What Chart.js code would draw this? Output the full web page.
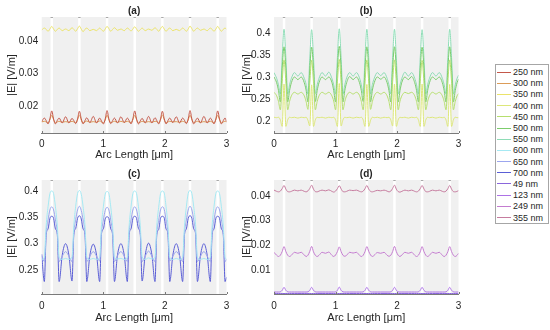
<!DOCTYPE html>
<html lang="en">
<head>
<meta charset="UTF-8">
<title>|E| along arc length</title>
<style>
    body { margin: 0; background: #fff; }
    .wrap { position: relative; width: 550px; height: 330px; overflow: hidden; font-family: "Liberation Sans", Arial, sans-serif; }
    canvas { position: absolute; }
    #legend { position: absolute; left: 495px; top: 64px; width: 54px; height: 160px; border: 1px solid #a6a6a6; box-sizing: border-box; background: #fff; padding-top: 1.5px; }
    .row { height: 11.2px; display: flex; align-items: center; font-size: 9px; color: #262626; white-space: nowrap; }
    .row .ln { display: inline-block; width: 14px; height: 1px; margin-left: 1px; margin-right: 2px; }
</style>
</head>
<body>
<div class="wrap">
    <canvas id="pa" width="275" height="165" style="left:0;top:0"></canvas>
    <canvas id="pb" width="275" height="165" style="left:235px;top:0"></canvas>
    <canvas id="pc" width="275" height="165" style="left:0;top:165px"></canvas>
    <canvas id="pd" width="275" height="165" style="left:235px;top:165px"></canvas>
    <div id="legend"></div>
</div>

<script src="https://cdn.jsdelivr.net/npm/chart.js"></script>
<script>
// arc length samples [um], shared by every curve
const xs = [0, 0.043, 0.073, 0.103, 0.133, 0.163, 0.193, 0.223, 0.253, 0.283, 0.333, 0.388,
    0.442, 0.492, 0.522, 0.552, 0.582, 0.612, 0.642, 0.672, 0.702, 0.732, 0.782, 0.837,
    0.891, 0.941, 0.971, 1.001, 1.031, 1.061, 1.091, 1.121, 1.151, 1.181, 1.231, 1.286,
    1.340, 1.390, 1.420, 1.450, 1.480, 1.510, 1.540, 1.570, 1.600, 1.630, 1.680, 1.735,
    1.789, 1.839, 1.869, 1.899, 1.929, 1.959, 1.989, 2.019, 2.049, 2.079, 2.129, 2.184,
    2.238, 2.288, 2.318, 2.348, 2.378, 2.408, 2.438, 2.468, 2.498, 2.528, 2.578, 2.633,
    2.687, 2.737, 2.767, 2.797, 2.827, 2.857, 2.887, 2.917, 2.947, 2.977, 3.0];
const xTicks = [0, 1, 2, 3];

// white gaps in the grey background
const gapLo = [0.143, 0.592, 1.041, 1.490, 1.939, 2.388, 2.837];
const gapHi = [0.183, 0.632, 1.081, 1.530, 1.979, 2.428, 2.877];

const aTicks = [0.02, 0.03, 0.04];
const bTicks = [0.2, 0.25, 0.3, 0.35, 0.4];
const cTicks = [0.25, 0.3, 0.35, 0.4];
const dTicks = [0.01, 0.02, 0.03, 0.04];

const names = ['250 nm', '300 nm', '350 nm', '400 nm', '450 nm', '500 nm', '550 nm',
    '600 nm', '650 nm', '700 nm', '49 nm', '123 nm', '249 nm', '355 nm'];
const colors = ['#c4584a', '#dc9c58', '#ebe36a', '#dde77a', '#b6df6e', '#7ccd6c', '#8edcb6',
    '#a6e9f3', '#9ca6ee', '#5a5ed6', '#8a66dc', '#ad72e6', '#c47cd0', '#c67c9f'];

// (a)
const y250 = [0.0152, 0.0163, 0.0155, 0.0145, 0.0161, 0.0185, 0.0160, 0.0145, 0.0156, 0.0163, 0.0148, 0.0167,
    0.0148, 0.0162, 0.0155, 0.0146, 0.0160, 0.0184, 0.0161, 0.0145, 0.0155, 0.0164, 0.0149, 0.0168,
    0.0148, 0.0163, 0.0154, 0.0145, 0.0160, 0.0186, 0.0160, 0.0146, 0.0155, 0.0163, 0.0148, 0.0167,
    0.0149, 0.0163, 0.0155, 0.0145, 0.0161, 0.0185, 0.0160, 0.0145, 0.0154, 0.0162, 0.0148, 0.0168,
    0.0148, 0.0164, 0.0155, 0.0145, 0.0160, 0.0184, 0.0161, 0.0145, 0.0155, 0.0163, 0.0149, 0.0167,
    0.0148, 0.0163, 0.0156, 0.0146, 0.0160, 0.0186, 0.0160, 0.0145, 0.0155, 0.0163, 0.0148, 0.0168,
    0.0148, 0.0163, 0.0155, 0.0145, 0.0160, 0.0185, 0.0160, 0.0145, 0.0155, 0.0163, 0.0152];
const y300 = [0.0151, 0.0153, 0.0151, 0.0148, 0.0158, 0.0172, 0.0158, 0.0148, 0.0151, 0.0153, 0.0150, 0.0152,
    0.0150, 0.0153, 0.0151, 0.0148, 0.0158, 0.0173, 0.0157, 0.0148, 0.0151, 0.0154, 0.0150, 0.0152,
    0.0150, 0.0154, 0.0151, 0.0148, 0.0157, 0.0172, 0.0158, 0.0148, 0.0151, 0.0153, 0.0150, 0.0153,
    0.0150, 0.0153, 0.0151, 0.0149, 0.0158, 0.0172, 0.0158, 0.0148, 0.0150, 0.0153, 0.0150, 0.0152,
    0.0150, 0.0153, 0.0152, 0.0148, 0.0158, 0.0173, 0.0158, 0.0148, 0.0151, 0.0153, 0.0151, 0.0152,
    0.0150, 0.0153, 0.0151, 0.0148, 0.0157, 0.0172, 0.0158, 0.0149, 0.0151, 0.0153, 0.0150, 0.0152,
    0.0150, 0.0153, 0.0151, 0.0148, 0.0158, 0.0172, 0.0158, 0.0148, 0.0151, 0.0153, 0.0151];
const y350 = [0.0434, 0.0440, 0.0436, 0.0430, 0.0437, 0.0445, 0.0437, 0.0430, 0.0436, 0.0440, 0.0432, 0.0437,
    0.0432, 0.0441, 0.0436, 0.0430, 0.0438, 0.0446, 0.0437, 0.0429, 0.0436, 0.0440, 0.0432, 0.0436,
    0.0432, 0.0440, 0.0435, 0.0430, 0.0437, 0.0445, 0.0438, 0.0430, 0.0436, 0.0441, 0.0433, 0.0437,
    0.0432, 0.0440, 0.0436, 0.0431, 0.0437, 0.0444, 0.0437, 0.0430, 0.0435, 0.0440, 0.0432, 0.0437,
    0.0433, 0.0441, 0.0436, 0.0430, 0.0438, 0.0445, 0.0437, 0.0430, 0.0436, 0.0440, 0.0432, 0.0436,
    0.0432, 0.0440, 0.0436, 0.0430, 0.0437, 0.0446, 0.0438, 0.0430, 0.0436, 0.0440, 0.0433, 0.0437,
    0.0432, 0.0440, 0.0436, 0.0430, 0.0437, 0.0445, 0.0437, 0.0430, 0.0436, 0.0440, 0.0436];

// (b)
const y400 = [0.209, 0.208, 0.209, 0.203, 0.188, 0.285, 0.188, 0.203, 0.209, 0.208, 0.209, 0.207,
    0.209, 0.208, 0.209, 0.202, 0.189, 0.283, 0.188, 0.203, 0.209, 0.208, 0.209, 0.207,
    0.209, 0.208, 0.209, 0.203, 0.188, 0.286, 0.189, 0.203, 0.209, 0.208, 0.209, 0.207,
    0.209, 0.208, 0.209, 0.203, 0.188, 0.284, 0.188, 0.202, 0.209, 0.208, 0.209, 0.207,
    0.209, 0.208, 0.209, 0.203, 0.189, 0.285, 0.188, 0.203, 0.209, 0.208, 0.209, 0.207,
    0.209, 0.208, 0.209, 0.203, 0.188, 0.285, 0.188, 0.203, 0.209, 0.208, 0.209, 0.207,
    0.209, 0.208, 0.209, 0.203, 0.188, 0.284, 0.188, 0.203, 0.209, 0.208, 0.208];
const y450 = [0.266, 0.258, 0.245, 0.226, 0.290, 0.340, 0.290, 0.226, 0.245, 0.258, 0.266, 0.262,
    0.266, 0.258, 0.245, 0.227, 0.289, 0.339, 0.290, 0.226, 0.245, 0.258, 0.266, 0.262,
    0.266, 0.258, 0.246, 0.226, 0.290, 0.341, 0.291, 0.226, 0.245, 0.258, 0.266, 0.262,
    0.266, 0.259, 0.245, 0.226, 0.290, 0.340, 0.290, 0.227, 0.245, 0.258, 0.266, 0.262,
    0.266, 0.258, 0.245, 0.226, 0.291, 0.340, 0.290, 0.226, 0.246, 0.258, 0.266, 0.263,
    0.266, 0.258, 0.245, 0.226, 0.290, 0.339, 0.290, 0.226, 0.245, 0.258, 0.266, 0.262,
    0.266, 0.258, 0.245, 0.226, 0.290, 0.340, 0.290, 0.226, 0.245, 0.258, 0.263];
const y500 = [0.301, 0.288, 0.270, 0.244, 0.320, 0.370, 0.320, 0.244, 0.270, 0.288, 0.301, 0.295,
    0.301, 0.288, 0.271, 0.244, 0.319, 0.369, 0.320, 0.245, 0.270, 0.288, 0.301, 0.295,
    0.301, 0.289, 0.270, 0.244, 0.320, 0.371, 0.321, 0.244, 0.270, 0.288, 0.302, 0.295,
    0.301, 0.288, 0.270, 0.245, 0.320, 0.370, 0.320, 0.244, 0.271, 0.288, 0.301, 0.296,
    0.301, 0.288, 0.270, 0.244, 0.321, 0.370, 0.319, 0.244, 0.270, 0.289, 0.301, 0.295,
    0.302, 0.288, 0.270, 0.244, 0.320, 0.369, 0.320, 0.244, 0.270, 0.288, 0.301, 0.295,
    0.301, 0.288, 0.270, 0.244, 0.320, 0.370, 0.320, 0.244, 0.270, 0.288, 0.296];
const y550 = [0.311, 0.298, 0.283, 0.262, 0.345, 0.410, 0.345, 0.262, 0.283, 0.298, 0.311, 0.303,
    0.311, 0.298, 0.284, 0.262, 0.344, 0.409, 0.345, 0.263, 0.283, 0.298, 0.311, 0.303,
    0.312, 0.298, 0.283, 0.262, 0.345, 0.411, 0.346, 0.262, 0.283, 0.299, 0.311, 0.303,
    0.311, 0.299, 0.283, 0.263, 0.345, 0.410, 0.345, 0.262, 0.284, 0.298, 0.311, 0.304,
    0.311, 0.298, 0.283, 0.262, 0.346, 0.410, 0.344, 0.262, 0.283, 0.298, 0.312, 0.303,
    0.311, 0.298, 0.283, 0.262, 0.345, 0.409, 0.345, 0.262, 0.283, 0.298, 0.311, 0.303,
    0.311, 0.298, 0.283, 0.262, 0.345, 0.410, 0.345, 0.262, 0.283, 0.298, 0.305];

// (c)
const y600 = [0.270, 0.274, 0.335, 0.370, 0.395, 0.400, 0.395, 0.370, 0.335, 0.274, 0.270, 0.272,
    0.270, 0.275, 0.335, 0.371, 0.395, 0.401, 0.394, 0.370, 0.335, 0.274, 0.270, 0.272,
    0.270, 0.274, 0.336, 0.370, 0.394, 0.399, 0.395, 0.370, 0.334, 0.274, 0.271, 0.272,
    0.270, 0.274, 0.335, 0.370, 0.395, 0.400, 0.395, 0.371, 0.335, 0.275, 0.270, 0.273,
    0.271, 0.274, 0.335, 0.369, 0.395, 0.400, 0.396, 0.370, 0.335, 0.274, 0.270, 0.272,
    0.270, 0.274, 0.334, 0.370, 0.395, 0.401, 0.395, 0.370, 0.336, 0.274, 0.270, 0.272,
    0.270, 0.274, 0.335, 0.370, 0.395, 0.400, 0.395, 0.370, 0.335, 0.274, 0.271];
const y650 = [0.277, 0.266, 0.322, 0.345, 0.364, 0.370, 0.364, 0.345, 0.322, 0.266, 0.276, 0.285,
    0.276, 0.266, 0.322, 0.346, 0.364, 0.371, 0.363, 0.345, 0.322, 0.266, 0.276, 0.285,
    0.276, 0.267, 0.322, 0.345, 0.363, 0.369, 0.364, 0.345, 0.321, 0.266, 0.277, 0.285,
    0.276, 0.266, 0.323, 0.345, 0.364, 0.370, 0.364, 0.346, 0.322, 0.266, 0.276, 0.286,
    0.276, 0.266, 0.322, 0.344, 0.364, 0.370, 0.365, 0.345, 0.322, 0.267, 0.276, 0.285,
    0.277, 0.266, 0.322, 0.345, 0.364, 0.371, 0.364, 0.345, 0.322, 0.266, 0.276, 0.285,
    0.276, 0.266, 0.322, 0.345, 0.364, 0.370, 0.364, 0.345, 0.322, 0.266, 0.270];
const y700 = [0.280, 0.228, 0.318, 0.328, 0.348, 0.352, 0.348, 0.328, 0.318, 0.228, 0.278, 0.300,
    0.278, 0.229, 0.318, 0.329, 0.348, 0.353, 0.347, 0.328, 0.318, 0.228, 0.278, 0.299,
    0.278, 0.228, 0.319, 0.328, 0.347, 0.351, 0.348, 0.328, 0.317, 0.228, 0.279, 0.300,
    0.278, 0.228, 0.318, 0.328, 0.348, 0.352, 0.348, 0.329, 0.318, 0.229, 0.278, 0.301,
    0.279, 0.228, 0.318, 0.327, 0.348, 0.352, 0.349, 0.328, 0.318, 0.228, 0.278, 0.300,
    0.278, 0.228, 0.317, 0.328, 0.348, 0.353, 0.348, 0.328, 0.319, 0.228, 0.278, 0.300,
    0.278, 0.228, 0.318, 0.328, 0.348, 0.352, 0.348, 0.328, 0.318, 0.228, 0.236];

// (d)
const y49 = [0.0005, 0.0005, 0.0005, 0.0005, 0.0005, 0.0005, 0.0005, 0.0005, 0.0005, 0.0005, 0.0005, 0.0005,
    0.0005, 0.0005, 0.0005, 0.0005, 0.0005, 0.0005, 0.0005, 0.0005, 0.0005, 0.0005, 0.0005, 0.0005,
    0.0005, 0.0005, 0.0005, 0.0005, 0.0005, 0.0005, 0.0005, 0.0005, 0.0005, 0.0005, 0.0005, 0.0005,
    0.0005, 0.0005, 0.0005, 0.0005, 0.0005, 0.0005, 0.0005, 0.0005, 0.0005, 0.0005, 0.0005, 0.0005,
    0.0005, 0.0005, 0.0005, 0.0005, 0.0005, 0.0005, 0.0005, 0.0005, 0.0005, 0.0005, 0.0005, 0.0005,
    0.0005, 0.0005, 0.0005, 0.0005, 0.0005, 0.0005, 0.0005, 0.0005, 0.0005, 0.0005, 0.0005, 0.0005,
    0.0005, 0.0005, 0.0005, 0.0005, 0.0005, 0.0005, 0.0005, 0.0005, 0.0005, 0.0005, 0.0005];
const y123 = [0.0011, 0.0011, 0.0011, 0.0012, 0.0018, 0.0030, 0.0018, 0.0012, 0.0011, 0.0011, 0.0011, 0.0011,
    0.0011, 0.0011, 0.0011, 0.0012, 0.0018, 0.0030, 0.0018, 0.0012, 0.0011, 0.0011, 0.0011, 0.0011,
    0.0011, 0.0011, 0.0011, 0.0012, 0.0018, 0.0031, 0.0018, 0.0012, 0.0011, 0.0011, 0.0011, 0.0011,
    0.0011, 0.0011, 0.0011, 0.0012, 0.0018, 0.0030, 0.0018, 0.0012, 0.0011, 0.0011, 0.0011, 0.0011,
    0.0011, 0.0011, 0.0011, 0.0012, 0.0018, 0.0030, 0.0018, 0.0012, 0.0011, 0.0011, 0.0011, 0.0011,
    0.0011, 0.0011, 0.0011, 0.0012, 0.0018, 0.0030, 0.0018, 0.0012, 0.0011, 0.0011, 0.0011, 0.0011,
    0.0011, 0.0011, 0.0011, 0.0012, 0.0018, 0.0030, 0.0018, 0.0012, 0.0011, 0.0011, 0.0011];
const y249 = [0.0172, 0.0160, 0.0155, 0.0160, 0.0175, 0.0195, 0.0175, 0.0160, 0.0155, 0.0160, 0.0172, 0.0168,
    0.0172, 0.0161, 0.0155, 0.0160, 0.0176, 0.0196, 0.0174, 0.0160, 0.0155, 0.0160, 0.0172, 0.0168,
    0.0173, 0.0160, 0.0155, 0.0161, 0.0175, 0.0194, 0.0175, 0.0160, 0.0156, 0.0160, 0.0172, 0.0169,
    0.0172, 0.0160, 0.0155, 0.0160, 0.0175, 0.0195, 0.0176, 0.0161, 0.0155, 0.0160, 0.0171, 0.0168,
    0.0172, 0.0160, 0.0156, 0.0160, 0.0175, 0.0196, 0.0175, 0.0160, 0.0155, 0.0161, 0.0172, 0.0168,
    0.0172, 0.0160, 0.0155, 0.0160, 0.0174, 0.0195, 0.0175, 0.0160, 0.0155, 0.0160, 0.0172, 0.0168,
    0.0172, 0.0160, 0.0155, 0.0160, 0.0175, 0.0195, 0.0175, 0.0160, 0.0155, 0.0160, 0.0168];
const y355 = [0.0424, 0.0419, 0.0417, 0.0420, 0.0430, 0.0443, 0.0428, 0.0418, 0.0417, 0.0419, 0.0424, 0.0421,
    0.0424, 0.0419, 0.0417, 0.0421, 0.0431, 0.0444, 0.0428, 0.0418, 0.0417, 0.0420, 0.0424, 0.0421,
    0.0425, 0.0419, 0.0416, 0.0420, 0.0430, 0.0442, 0.0429, 0.0418, 0.0417, 0.0419, 0.0424, 0.0422,
    0.0424, 0.0419, 0.0417, 0.0420, 0.0430, 0.0443, 0.0428, 0.0419, 0.0417, 0.0419, 0.0423, 0.0421,
    0.0424, 0.0420, 0.0417, 0.0420, 0.0431, 0.0444, 0.0428, 0.0418, 0.0416, 0.0419, 0.0424, 0.0421,
    0.0424, 0.0419, 0.0417, 0.0420, 0.0430, 0.0443, 0.0429, 0.0418, 0.0417, 0.0419, 0.0424, 0.0421,
    0.0424, 0.0419, 0.0417, 0.0420, 0.0430, 0.0443, 0.0428, 0.0418, 0.0417, 0.0419, 0.0422];

const series = [y250, y300, y350, y400, y450, y500, y550, y600, y650, y700, y49, y123, y249, y355];

const textColor = '#262626';
const fontFamily = '"Liberation Sans", Arial, sans-serif';

// grey bands with white gaps, short marks on top, inward ticks on the x axis
const bands = {
    id: 'bands',
    beforeDraw(chart) {
        const { ctx, chartArea: { left, top, right, bottom }, scales: { x } } = chart;
        ctx.save();
        ctx.fillStyle = '#f0f0f0';
        ctx.fillRect(left, top, right - left, bottom - top);
        ctx.fillStyle = '#ffffff';
        ctx.strokeStyle = '#a8a8a8';
        ctx.lineWidth = 1;
        gapLo.forEach((lo, i) => {
            const a = x.getPixelForValue(lo);
            const b = x.getPixelForValue(gapHi[i]);
            ctx.fillRect(a, top, b - a, bottom - top);
            ctx.beginPath();
            ctx.moveTo(a, top + 0.5);
            ctx.lineTo(b, top + 0.5);
            ctx.stroke();
        });
        ctx.restore();
    },
    afterDatasetsDraw(chart) {
        const { ctx, chartArea: { bottom }, scales: { x } } = chart;
        ctx.save();
        ctx.strokeStyle = '#7a7a7a';
        ctx.lineWidth = 1;
        xTicks.forEach(v => {
            const px = Math.round(x.getPixelForValue(v)) + 0.5;
            ctx.beginPath();
            ctx.moveTo(px, bottom);
            ctx.lineTo(px, bottom - 2);
            ctx.stroke();
        });
        ctx.restore();
    }
};

function panel(id, title, idx, yMin, yMax, yTicks, box) {
    new Chart(document.getElementById(id), {
        type: 'line',
        data: {
            datasets: idx.map(k => ({
                label: names[k],
                data: xs.map((x, i) => ({ x: x, y: series[k][i] })),
                borderColor: colors[k],
                borderWidth: 1,
                pointRadius: 0,
                fill: false,
                cubicInterpolationMode: 'monotone'
            }))
        },
        options: {
            responsive: false,
            animation: false,
            layout: { padding: { left: 0, top: 0, right: box.padRight, bottom: 0 } },
            plugins: {
                legend: { display: false },
                tooltip: { enabled: false },
                title: {
                    display: true, text: title, fullSize: false, color: textColor,
                    font: { family: fontFamily, size: 10, weight: 'bold' },
                    padding: { top: box.titleTop, bottom: 0 }
                }
            },
            scales: {
                x: {
                    type: 'linear', min: 0, max: 3,
                    afterBuildTicks: s => { s.ticks = xTicks.map(v => ({ value: v })); },
                    afterFit: s => { s.height = box.xHeight; },
                    grid: { display: false, drawTicks: false },
                    border: { display: true, color: '#7a7a7a', width: 1 },
                    ticks: { color: textColor, font: { family: fontFamily, size: 10 }, padding: box.xTickPad, maxRotation: 0, autoSkip: false },
                    title: {
                        display: true, text: 'Arc Length [μm]', color: textColor,
                        font: { family: fontFamily, size: 11 },
                        padding: { top: 0, bottom: box.xTitlePad }
                    }
                },
                y: {
                    type: 'linear', min: yMin, max: yMax,
                    afterBuildTicks: s => { s.ticks = yTicks.map(v => ({ value: v })); },
                    afterFit: s => { s.width = box.yWidth; },
                    grid: { display: false, drawTicks: false },
                    border: { display: false },
                    ticks: { color: textColor, font: { family: fontFamily, size: 10 }, padding: 3.5, autoSkip: false, callback: v => String(v) },
                    title: {
                        display: true, text: '|E| [V/m]', color: textColor,
                        font: { family: fontFamily, size: 11 },
                        padding: { top: 5, bottom: 0 }
                    }
                }
            }
        },
        plugins: [bands]
    });
}

const topRow = { titleTop: 5, xHeight: 32, xTickPad: 5, xTitlePad: 3.4 };
const botRow = { titleTop: 3, xHeight: 36, xTickPad: 6, xTitlePad: 5.4 };

panel('pa', '(a)', [0, 1, 2], 0.0117, 0.0474, aTicks, Object.assign({ yWidth: 41.7, padRight: 48.5 }, topRow));
panel('pb', '(b)', [3, 4, 5, 6], 0.173, 0.438, bTicks, Object.assign({ yWidth: 39, padRight: 51.5 }, topRow));
panel('pc', '(c)', [7, 8, 9], 0.2044, 0.4209, cTicks, Object.assign({ yWidth: 41.7, padRight: 48.5 }, botRow));
panel('pd', '(d)', [10, 11, 12, 13], 0.0003, 0.0465, dTicks, Object.assign({ yWidth: 39, padRight: 51.5 }, botRow));

// legend
const legend = document.getElementById('legend');
names.forEach((n, i) => {
    const row = document.createElement('div');
    row.className = 'row';
    const ln = document.createElement('span');
    ln.className = 'ln';
    ln.style.background = colors[i];
    row.appendChild(ln);
    row.appendChild(document.createTextNode(n));
    legend.appendChild(row);
});
</script>
</body>
</html>
